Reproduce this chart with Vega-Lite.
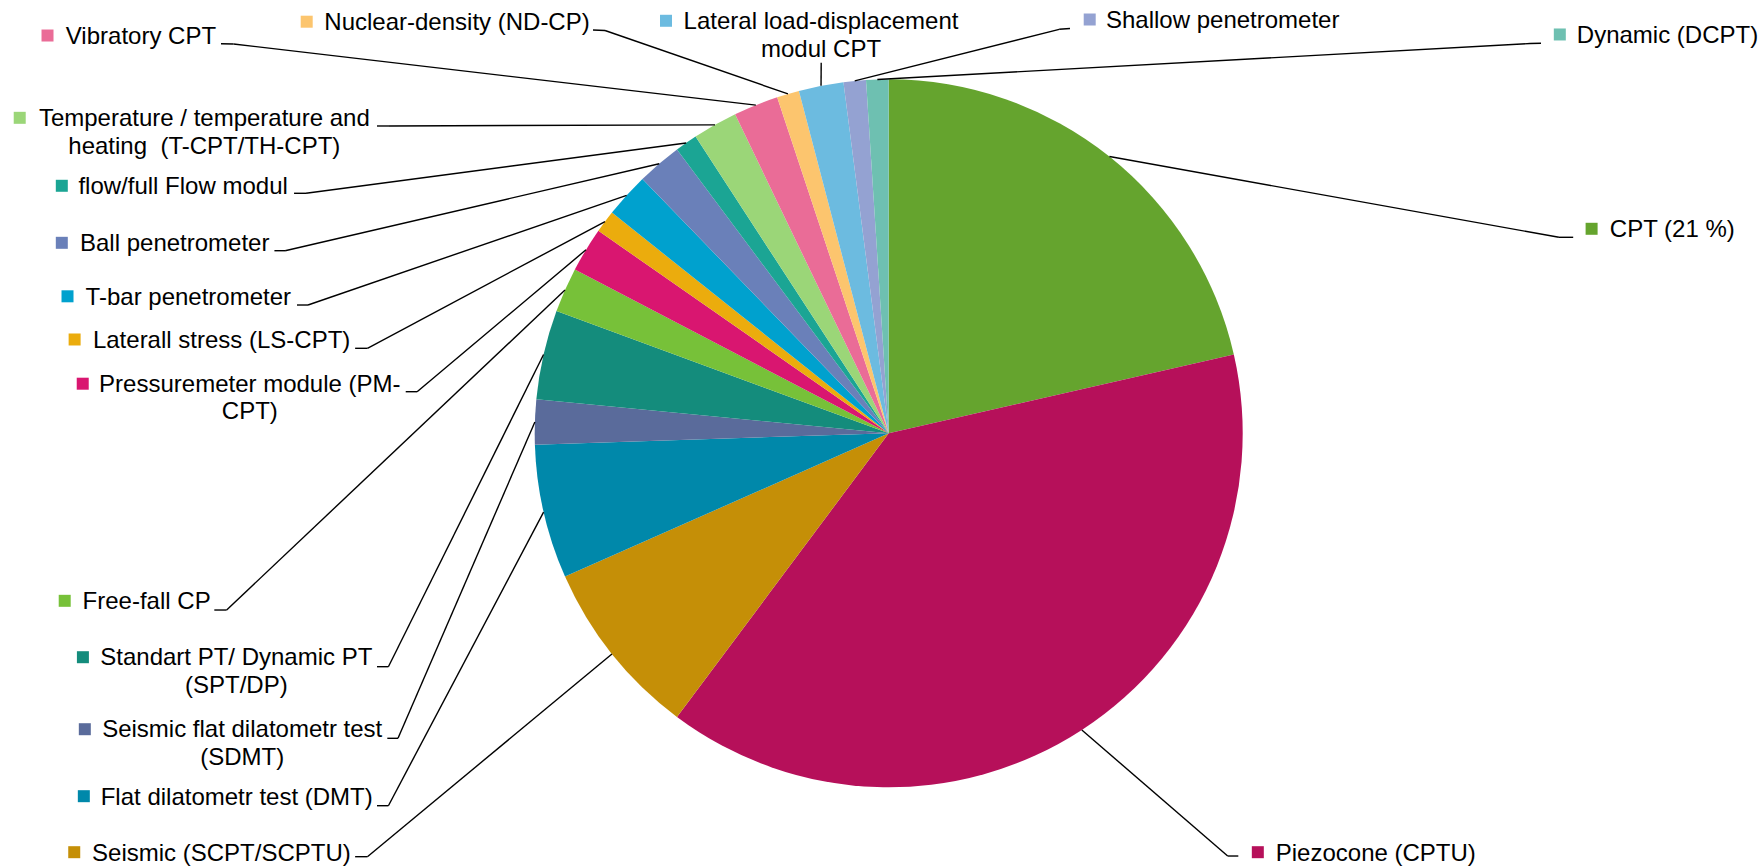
{
  "$schema": "https://vega.github.io/schema/vega-lite/v6.json",
  "width": 1760,
  "height": 866,
  "autosize": {"type": "none"},
  "padding": 0,
  "background": "#ffffff",
  "config": {"view": {"stroke": null}},
  "datasets": {
    "slices": [
      {"cat": "CPT", "label": "CPT (21 %)", "value": 21, "order": 1, "tx": 2.2136, "ty": 0.554, "mx": 1.9856, "my": 0.5777, "ex": 1.8932, "ey": 0.5537, "ax": 1.9336, "ay": 0.5537},
      {"cat": "Piezocone", "label": "Piezocone (CPTU)", "value": 38, "order": 2, "tx": 1.376, "ty": -1.2068, "mx": 1.0427, "my": -1.1833, "ex": 0.9576, "ey": -1.1941, "ax": 0.9876, "ay": -1.1941},
      {"cat": "Seismic", "label": "Seismic (SCPT/SCPTU)", "value": 8, "order": 3, "tx": -1.885, "ty": -1.2068, "mx": -2.3008, "my": -1.1833, "ex": -1.4726, "ey": -1.196, "ax": -1.5073, "ay": -1.196},
      {"cat": "DMT", "label": "Flat dilatometr test (DMT)", "value": 6, "order": 4, "tx": -1.8418, "ty": -1.0486, "mx": -2.2737, "my": -1.0251, "ex": -1.4133, "ey": -1.052, "ax": -1.4455, "ay": -1.052},
      {"cat": "SDMT", "label": "Seismic flat dilatometr test\n(SDMT)", "value": 2, "order": 5, "tx": -1.8263, "ty": -0.8593, "mx": -2.2709, "my": -0.8359, "ex": -1.3862, "ey": -0.8616, "ax": -1.4164, "ay": -0.8616},
      {"cat": "SPT", "label": "Standart PT/ Dynamic PT\n(SPT/DP)", "value": 4, "order": 6, "tx": -1.8429, "ty": -0.6559, "mx": -2.2763, "my": -0.6325, "ex": -1.4133, "ey": -0.6593, "ax": -1.4455, "ay": -0.6593},
      {"cat": "FreeFall", "label": "Free-fall CP", "value": 2, "order": 7, "tx": -2.0963, "ty": -0.4966, "mx": -2.3277, "my": -0.4732, "ex": -1.8703, "ey": -0.4992, "ax": -1.9051, "ay": -0.4992},
      {"cat": "PM", "label": "Pressuremeter module (PM-\nCPT)", "value": 2, "order": 8, "tx": -1.8048, "ty": 0.1167, "mx": -2.2768, "my": 0.1401, "ex": -1.3322, "ey": 0.1175, "ax": -1.3644, "ay": 0.1175},
      {"cat": "LS", "label": "Laterall stress (LS-CPT)", "value": 1, "order": 9, "tx": -1.8845, "ty": 0.2415, "mx": -2.2997, "my": 0.265, "ex": -1.4726, "ey": 0.2401, "ax": -1.5073, "ay": 0.2401},
      {"cat": "Tbar", "label": "T-bar penetrometer", "value": 2, "order": 10, "tx": -1.9785, "ty": 0.3636, "mx": -2.3198, "my": 0.387, "ex": -1.6404, "ey": 0.3624, "ax": -1.6715, "ay": 0.3624},
      {"cat": "Ball", "label": "Ball penetrometer", "value": 2, "order": 11, "tx": -2.0169, "ty": 0.5147, "mx": -2.3359, "my": 0.5381, "ex": -1.7051, "ey": 0.5158, "ax": -1.7353, "ay": 0.5158},
      {"cat": "Flow", "label": "flow/full Flow modul", "value": 1, "order": 12, "tx": -1.9932, "ty": 0.6757, "mx": -2.3359, "my": 0.6992, "ex": -1.646, "ey": 0.678, "ax": -1.6799, "ay": 0.678},
      {"cat": "Temp", "label": "Temperature / temperature and\nheating \u00a0(T-CPT/TH-CPT)", "value": 2, "order": 13, "tx": -1.9333, "ty": 0.8678, "mx": -2.4548, "my": 0.8912, "ex": -1.4116, "ey": 0.8681, "ax": -1.4455, "ay": 0.8681},
      {"cat": "Vibratory", "label": "Vibratory CPT", "value": 2, "order": 14, "tx": -2.1124, "ty": 1.1003, "mx": -2.3763, "my": 1.1237, "ex": -1.8508, "ey": 1.0997, "ax": -1.8862, "ay": 1.1006},
      {"cat": "Nuclear", "label": "Nuclear-density (ND-CP)", "value": 1, "order": 15, "tx": -1.2195, "ty": 1.1393, "mx": -1.6441, "my": 1.1627, "ex": -0.8014, "ey": 1.1379, "ax": -0.8353, "ay": 1.1393},
      {"cat": "Lateral", "label": "Lateral load-displacement\nmodul CPT", "value": 2, "order": 16, "tx": -0.1912, "ty": 1.1418, "mx": -0.6291, "my": 1.1653, "ex": -0.1907, "ey": 1.0469, "ax": -0.1907, "ay": 1.0469},
      {"cat": "Shallow", "label": "Shallow penetrometer", "value": 1, "order": 17, "tx": 0.9435, "ty": 1.1455, "mx": 0.5678, "my": 1.1689, "ex": 0.4816, "ey": 1.1412, "ax": 0.5121, "ay": 1.1435},
      {"cat": "Dynamic", "label": "Dynamic (DCPT)", "value": 1, "order": 18, "tx": 2.2, "ty": 1.1031, "mx": 1.8958, "my": 1.1266, "ex": 1.8116, "ey": 1.1011, "ax": 1.8427, "ay": 1.1017}
    ]
  },
  "data": {"name": "slices"},
  "layer": [
    {
      "mark": {"type": "arc", "outerRadius": 354},
      "encoding": {
        "theta": {"field": "value", "type": "quantitative", "stack": true},
        "order": {"field": "order", "type": "quantitative"},
        "x": {"datum": 0, "type": "quantitative", "scale": {"domain": [-2.5105, 2.4613], "nice": false, "zero": false}, "axis": null},
        "y": {"datum": 0, "type": "quantitative", "scale": {"domain": [-1.2223, 1.224], "nice": false, "zero": false}, "axis": null},
        "color": {
          "field": "cat", "type": "nominal", "legend": null,
          "scale": {
            "domain": ["CPT", "Piezocone", "Seismic", "DMT", "SDMT", "SPT", "FreeFall", "PM", "LS", "Tbar", "Ball", "Flow", "Temp", "Vibratory", "Nuclear", "Lateral", "Shallow", "Dynamic"],
            "range": ["#65A42E", "#B6105A", "#C58F07", "#0088AA", "#5A6B9B", "#148C7C", "#77C139", "#D91670", "#EBAC0D", "#00A1CE", "#6A80B9", "#1BA594", "#9BD678", "#EA6C97", "#FCC56E", "#6CBBE0", "#94A2D2", "#6EC0B1"]
          }
        }
      }
    },
    {
      "transform": [
        {"joinaggregate": [{"op": "sum", "field": "value", "as": "total"}]},
        {"window": [{"op": "sum", "field": "value", "as": "cum"}], "sort": [{"field": "order"}], "frame": [null, 0]},
        {"calculate": "(datum.cum - datum.value / 2) / datum.total * 2 * PI", "as": "mid"},
        {"calculate": "sin(datum.mid)", "as": "sx"},
        {"calculate": "cos(datum.mid)", "as": "sy"}
      ],
      "mark": {"type": "rule", "color": "#000000", "strokeWidth": 1.4},
      "encoding": {
        "x": {"field": "sx", "type": "quantitative", "scale": {"domain": [-2.5105, 2.4613], "nice": false, "zero": false}, "axis": null},
        "y": {"field": "sy", "type": "quantitative", "scale": {"domain": [-1.2223, 1.224], "nice": false, "zero": false}, "axis": null},
        "x2": {"field": "ex"},
        "y2": {"field": "ey"}
      }
    },
    {
      "mark": {"type": "rule", "color": "#000000", "strokeWidth": 1.4},
      "encoding": {
        "x": {"field": "ex", "type": "quantitative", "scale": {"domain": [-2.5105, 2.4613], "nice": false, "zero": false}, "axis": null},
        "y": {"field": "ey", "type": "quantitative", "scale": {"domain": [-1.2223, 1.224], "nice": false, "zero": false}, "axis": null},
        "x2": {"field": "ax"},
        "y2": {"field": "ay"}
      }
    },
    {
      "mark": {"type": "point", "shape": "square", "filled": true, "size": 144, "opacity": 1, "strokeWidth": 0},
      "encoding": {
        "x": {"field": "mx", "type": "quantitative", "scale": {"domain": [-2.5105, 2.4613], "nice": false, "zero": false}, "axis": null},
        "y": {"field": "my", "type": "quantitative", "scale": {"domain": [-1.2223, 1.224], "nice": false, "zero": false}, "axis": null},
        "color": {"field": "cat", "type": "nominal", "legend": null}
      }
    },
    {
      "mark": {"type": "text", "font": "Liberation Sans", "fontSize": 24, "align": "center", "baseline": "alphabetic", "lineBreak": "\n", "lineHeight": 27.5, "color": "#000000"},
      "encoding": {
        "x": {"field": "tx", "type": "quantitative", "scale": {"domain": [-2.5105, 2.4613], "nice": false, "zero": false}, "axis": null},
        "y": {"field": "ty", "type": "quantitative", "scale": {"domain": [-1.2223, 1.224], "nice": false, "zero": false}, "axis": null},
        "text": {"field": "label"}
      }
    }
  ]
}
